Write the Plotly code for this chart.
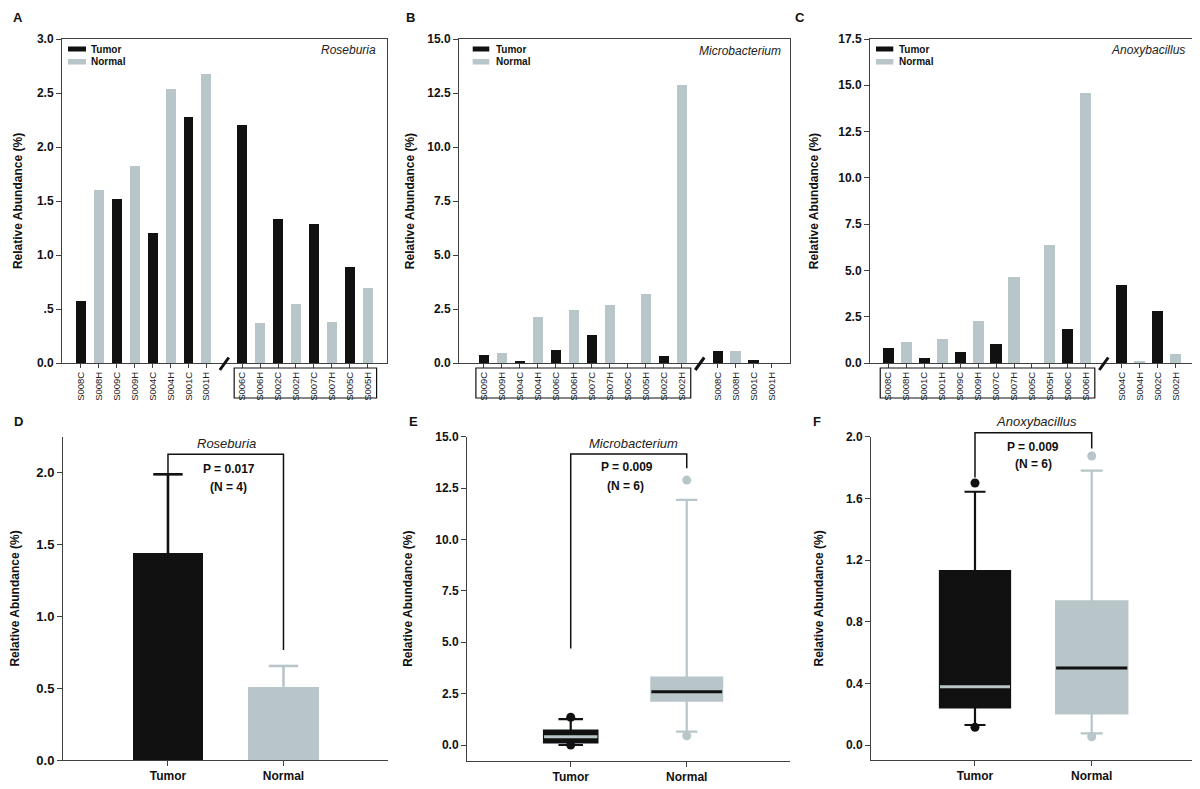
import plotly.graph_objects as go

# The page body has an 8px default margin; the figure is sized/offset to compensate.
OFF = 8
W, H = 1200 - OFF, 789 - OFF
BLACK = "#111111"
GRAY = "#b8c5c9"
AXC = "#404040"
FONT = "Arial"

# ---------------- data ----------------
# Panel A: Roseburia
A_samples = ["S008C", "S008H", "S009C", "S009H", "S004C", "S004H", "S001C", "S001H",
             "S006C", "S006H", "S002C", "S002H", "S007C", "S007H", "S005C", "S005H"]
A_values = [0.57, 1.60, 1.52, 1.82, 1.20, 2.54, 2.28, 2.68,
            2.20, 0.37, 1.33, 0.55, 1.29, 0.38, 0.89, 0.69]
A_break = 8
A_boxed = (8, 15)
A_yticks = [0, 0.5, 1.0, 1.5, 2.0, 2.5, 3.0]
A_yticktext = ["0.0", ".5", "1.0", "1.5", "2.0", "2.5", "3.0"]

# Panel B: Microbacterium
B_samples = ["S009C", "S009H", "S004C", "S004H", "S006C", "S006H", "S007C", "S007H",
             "S005C", "S005H", "S002C", "S002H", "S008C", "S008H", "S001C", "S001H"]
B_values = [0.35, 0.46, 0.08, 2.13, 0.62, 2.44, 1.30, 2.67,
            0.0, 3.20, 0.31, 12.87, 0.57, 0.54, 0.15, 0.0]
B_break = 12
B_boxed = (0, 11)
B_yticks = [0, 2.5, 5.0, 7.5, 10.0, 12.5, 15.0]

# Panel C: Anoxybacillus
C_samples = ["S008C", "S008H", "S001C", "S001H", "S009C", "S009H", "S007C", "S007H",
             "S005C", "S005H", "S006C", "S006H", "S004C", "S004H", "S002C", "S002H"]
C_values = [0.81, 1.12, 0.29, 1.31, 0.59, 2.29, 1.04, 4.66,
            0.0, 6.39, 1.85, 14.60, 4.23, 0.13, 2.79, 0.50]
C_break = 12
C_boxed = (0, 11)
C_yticks = [0, 2.5, 5.0, 7.5, 10.0, 12.5, 15.0, 17.5]

groups = ["Tumor", "Normal"]

# Panel D: Roseburia mean + SD
D_mean = [1.44, 0.51]
D_err = [0.55, 0.145]
D_yticks = [0, 0.5, 1.0, 1.5, 2.0]

# Panel E: Microbacterium box stats [Tumor, Normal]
E_q1 = [0.13, 2.16]
E_median = [0.40, 2.59]
E_q3 = [0.70, 3.28]
E_low = [0.0, 0.65]
E_high = [1.26, 11.93]
E_min = [0.0, 0.45]
E_max = [1.35, 12.89]
E_yticks = [0, 2.5, 5.0, 7.5, 10.0, 12.5, 15.0]

# Panel F: Anoxybacillus box stats [Tumor, Normal]
F_q1 = [0.244, 0.205]
F_median = [0.378, 0.50]
F_q3 = [1.129, 0.932]
F_low = [0.13, 0.076]
F_high = [1.643, 1.78]
F_min = [0.115, 0.054]
F_max = [1.70, 1.875]
F_yticks = [0, 0.4, 0.8, 1.2, 1.6, 2.0]

# significance annotations
D_stat = dict(genus="Roseburia", p="P = 0.017", n="(N = 4)", top=2.13, left=1.99, right=0.766)
E_stat = dict(genus="Microbacterium", p="P = 0.009", n="(N = 6)", top=14.16, left=4.70, right=13.46)
F_stat = dict(genus="Anoxybacillus", p="P = 0.009", n="(N = 6)", top=2.026, left=1.736, right=1.924)


# ---------------- helpers (reference-pixel -> paper) ----------------
def px(p):
    return (p - OFF) / W


def py(p):
    return 1 - (p - OFF) / H


def xdom(l, r):
    return [px(l), px(r)]


def ydom(top, bottom):
    return [py(bottom), py(top)]


fig = go.Figure()
shapes = []
annotations = []


def fmt(v):
    return f"{v:.1f}"


def add_sample_panel(k, samples, values, brk, boxed, width, xdomain, ydomain, xrange, yrange,
                     yticks, yticktext, genus, leg, genus_pos, standoff):
    xa = "x" if k == 1 else f"x{k}"
    ya = "y" if k == 1 else f"y{k}"
    pos = [i if i < brk else i + 1 for i in range(len(samples))]
    for name, suffix, col in (("Tumor", "C", BLACK), ("Normal", "H", GRAY)):
        xs = [p for p, s in zip(pos, samples) if s.endswith(suffix)]
        ys = [v for v, s in zip(values, samples) if s.endswith(suffix)]
        fig.add_trace(go.Bar(x=xs, y=ys, width=width, marker=dict(color=col, line=dict(width=0)),
                             name=name, showlegend=False, xaxis=xa, yaxis=ya))
    axkey = "xaxis" if k == 1 else f"xaxis{k}"
    aykey = "yaxis" if k == 1 else f"yaxis{k}"
    fig.update_layout(**{
        axkey: dict(domain=xdomain, range=xrange, anchor=ya, tickmode="array", tickvals=pos,
                    ticktext=samples, tickangle=-90, ticks="outside", ticklen=4, tickcolor=AXC,
                    showline=True, linecolor=AXC, linewidth=1, mirror=True, showgrid=False,
                    zeroline=False, tickfont=dict(family=FONT, size=9.5, color="#222222"),
                    automargin=False, fixedrange=True),
        aykey: dict(domain=ydomain, range=yrange, anchor=xa, tickmode="array", tickvals=yticks,
                    ticktext=yticktext, ticks="outside", ticklen=5, tickcolor=AXC,
                    showline=True, linecolor=AXC, linewidth=1, mirror=True, showgrid=False,
                    zeroline=False, tickfont=dict(family=FONT, size=12, color="#111111", weight="bold"),
                    title=dict(text="Relative Abundance (%)", standoff=standoff,
                               font=dict(family=FONT, size=12, color="#111111", weight="bold")),
                    automargin=False, fixedrange=True),
    })
    # break slash on the x axis
    shapes.append(dict(type="line", xref=xa, yref="paper", x0=brk - 0.25, x1=brk + 0.25,
                       y0=py(370), y1=py(357.5), line=dict(color=BLACK, width=3)))
    # box around one group of sample labels
    b0 = pos[boxed[0]]
    b1 = pos[boxed[1]]
    shapes.append(dict(type="rect", xref=xa, yref="paper", x0=b0 - 0.45, x1=b1 + 0.5,
                       y0=py(398), y1=py(368), line=dict(color=BLACK, width=1.2)))
    # legend (inside the plot, top-left)
    lx0, lx1, tx = leg
    for name, col, (yt, yb), ty in (("Tumor", BLACK, (46.5, 51.5), 49.5), ("Normal", GRAY, (59, 64.5), 62)):
        shapes.append(dict(type="rect", xref="paper", yref="paper", x0=px(lx0), x1=px(lx1),
                           y0=py(yb), y1=py(yt), line=dict(width=0), fillcolor=col))
        annotations.append(dict(text=name, xref="paper", yref="paper", x=px(tx), y=py(ty),
                                xanchor="left", yanchor="middle", showarrow=False,
                                font=dict(family=FONT, size=10, color="#111111", weight="bold")))
    gx, gy = genus_pos
    annotations.append(dict(text=f"<i>{genus}</i>", xref="paper", yref="paper", x=px(gx), y=py(gy),
                            xanchor="right", yanchor="middle", showarrow=False,
                            font=dict(family=FONT, size=12, color="#222222")))


add_sample_panel(1, A_samples, A_values, A_break, A_boxed, 0.55, xdom(62, 387), ydom(39, 363),
                 [-1.06, 17.08], [0, 3.0], A_yticks, A_yticktext, "Roseburia",
                 (68, 86, 88.5), (377.7, 49.5), 11)
add_sample_panel(2, B_samples, B_values, B_break, B_boxed, 0.58, xdom(459, 790), ydom(39, 363),
                 [-1.39, 17.02], [0, 15.0], B_yticks, [fmt(v) for v in B_yticks], "Microbacterium",
                 (472.7, 489.3, 494), (782.7, 50.5), 10)
add_sample_panel(3, C_samples, C_values, C_break, C_boxed, 0.62, xdom(870, 1195), ydom(39, 363),
                 [-1.02, 17.08], [0, 17.5], C_yticks, [fmt(v) for v in C_yticks], "Anoxybacillus",
                 (876, 893.3, 897.3), (1186.7, 50), 17)

xpos = [0, 1]
yranges = {}


def bottom_axes(k, xdomain, ydomain, xrange, yrange, yticks, standoff, ysize=12):
    xa, ya = f"x{k}", f"y{k}"
    yranges[ya] = yrange
    fig.update_layout(**{
        f"xaxis{k}": dict(domain=xdomain, range=xrange, anchor=ya, tickmode="array", tickvals=xpos,
                          ticktext=groups, ticks="outside", ticklen=5, tickcolor=AXC,
                          showline=True, linecolor=AXC, linewidth=1, showgrid=False, zeroline=False,
                          tickfont=dict(family=FONT, size=12, color="#111111", weight="bold"),
                          automargin=False, fixedrange=True),
        f"yaxis{k}": dict(domain=ydomain, range=yrange, anchor=xa, tickmode="array", tickvals=yticks,
                          ticktext=[fmt(v) for v in yticks], ticks="outside", ticklen=5, tickcolor=AXC,
                          showline=True, linecolor=AXC, linewidth=1, showgrid=False, zeroline=False,
                          tickfont=dict(family=FONT, size=ysize, color="#111111", weight="bold"),
                          title=dict(text="Relative Abundance (%)", standoff=standoff,
                                     font=dict(family=FONT, size=12, color="#111111", weight="bold")),
                          automargin=False, fixedrange=True),
    })
    return xa, ya


def add_stat(xa, ya, st, tx, ty):
    lo, hi = yranges[ya]

    def dom(v):  # data value -> fraction of the y-axis domain (may exceed 1)
        return (v - lo) / (hi - lo)

    path = (f"M {xpos[0]},{dom(st['left'])} L {xpos[0]},{dom(st['top'])} "
            f"L {xpos[1]},{dom(st['top'])} L {xpos[1]},{dom(st['right'])}")
    shapes.append(dict(type="path", xref=xa, yref=f"{ya} domain", path=path,
                       line=dict(color=BLACK, width=1.5)))
    (gx, gy), (pxx, pyy), (nx, ny) = tx, ty[0], ty[1]
    for text, x, y, font in ((f"<i>{st['genus']}</i>", gx, gy, dict(family=FONT, size=13, color="#222222")),
                             (st["p"], pxx, pyy, dict(family=FONT, size=12, color="#111111", weight="bold")),
                             (st["n"], nx, ny, dict(family=FONT, size=12, color="#111111", weight="bold"))):
        annotations.append(dict(text=text, xref=xa, yref=f"{ya} domain", x=x, y=dom(y),
                                showarrow=False, xanchor="center", yanchor="middle", font=font))


# ---- Panel D ----
xa, ya = bottom_axes(4, xdom(63, 388), ydom(437, 760), [-0.909, 1.905], [0, 2.25], D_yticks, 14, ysize=13)
for i, (g, col) in enumerate(zip(groups, (BLACK, GRAY))):
    fig.add_trace(go.Bar(x=[xpos[i]], y=[D_mean[i]], width=0.61, marker=dict(color=col, line=dict(width=0)),
                         showlegend=False, name=g, xaxis=xa, yaxis=ya))
    # upper-only error bar with a cap at the top
    fig.add_trace(go.Scatter(x=[xpos[i], xpos[i]], y=[D_mean[i], D_mean[i] + D_err[i]], mode="lines",
                             line=dict(color=col, width=2.6), showlegend=False, hoverinfo="skip",
                             xaxis=xa, yaxis=ya))
    fig.add_trace(go.Scatter(x=[xpos[i]], y=[D_mean[i] + D_err[i]], mode="markers",
                             marker=dict(symbol="line-ew", size=21, line=dict(color=col, width=2.6)),
                             showlegend=False, hoverinfo="skip", xaxis=xa, yaxis=ya))
add_stat(xa, ya, D_stat, (0.51, 2.207), ((0.53, 2.03), (0.52, 1.90)))


# ---- Panels E, F ----
def add_boxes(xa, ya, q1, med, q3, lo, hi, mn, mx, widths, caps):
    for i, (g, col, mcol) in enumerate(zip(groups, (BLACK, GRAY), (GRAY, BLACK))):
        fig.add_trace(go.Box(x=[xpos[i]], q1=[q1[i]], median=[med[i]], q3=[q3[i]],
                             lowerfence=[lo[i]], upperfence=[hi[i]], width=widths[i],
                             whiskerwidth=caps[i], fillcolor=col, line=dict(color=col, width=2.2),
                             boxpoints=False, showlegend=False, name=g, xaxis=xa, yaxis=ya))
        w = widths[i] / 2
        fig.add_trace(go.Scatter(x=[xpos[i] - w, xpos[i] + w], y=[med[i], med[i]], mode="lines",
                                 line=dict(color=mcol, width=3), showlegend=False, hoverinfo="skip",
                                 xaxis=xa, yaxis=ya))
        fig.add_trace(go.Scatter(x=[xpos[i], xpos[i]], y=[mn[i], mx[i]], mode="markers",
                                 marker=dict(color=col, size=9), showlegend=False, name=g,
                                 cliponaxis=False, xaxis=xa, yaxis=ya))


xa, ya = bottom_axes(5, xdom(467, 790), ydom(436.7, 760.7), [-0.894, 1.89], [-0.764, 15.0], E_yticks, 20)
add_boxes(xa, ya, E_q1, E_median, E_q3, E_low, E_high, E_min, E_max, (0.46, 0.61), (0.46, 0.3))
add_stat(xa, ya, E_stat, (0.537, 14.68), ((0.485, 13.54), (0.468, 12.62)))

xa, ya = bottom_axes(6, xdom(871, 1195), ydom(436.7, 760), [-0.891, 1.885], [-0.097, 2.0], F_yticks, 19)
add_boxes(xa, ya, F_q1, F_median, F_q3, F_low, F_high, F_min, F_max, (0.6, 0.61), (0.3, 0.31))
add_stat(xa, ya, F_stat, (0.523, 2.097), ((0.494, 1.935), (0.497, 1.823)))

# panel letters
for letter, (lx, ly) in zip("ABCDEF", [(18, 18), (410, 18), (800, 18), (18, 422), (413, 422), (817, 422)]):
    annotations.append(dict(text=f"<b>{letter}</b>", xref="paper", yref="paper", x=px(lx), y=py(ly),
                            xanchor="center", yanchor="middle", showarrow=False,
                            font=dict(family=FONT, size=13, color="#111111")))

fig.update_layout(width=W, height=H, margin=dict(l=0, r=0, t=0, b=0),
                  paper_bgcolor="white", plot_bgcolor="white", shapes=shapes,
                  annotations=annotations, bargap=0, font=dict(family=FONT))

fig.write_html("out.html")
